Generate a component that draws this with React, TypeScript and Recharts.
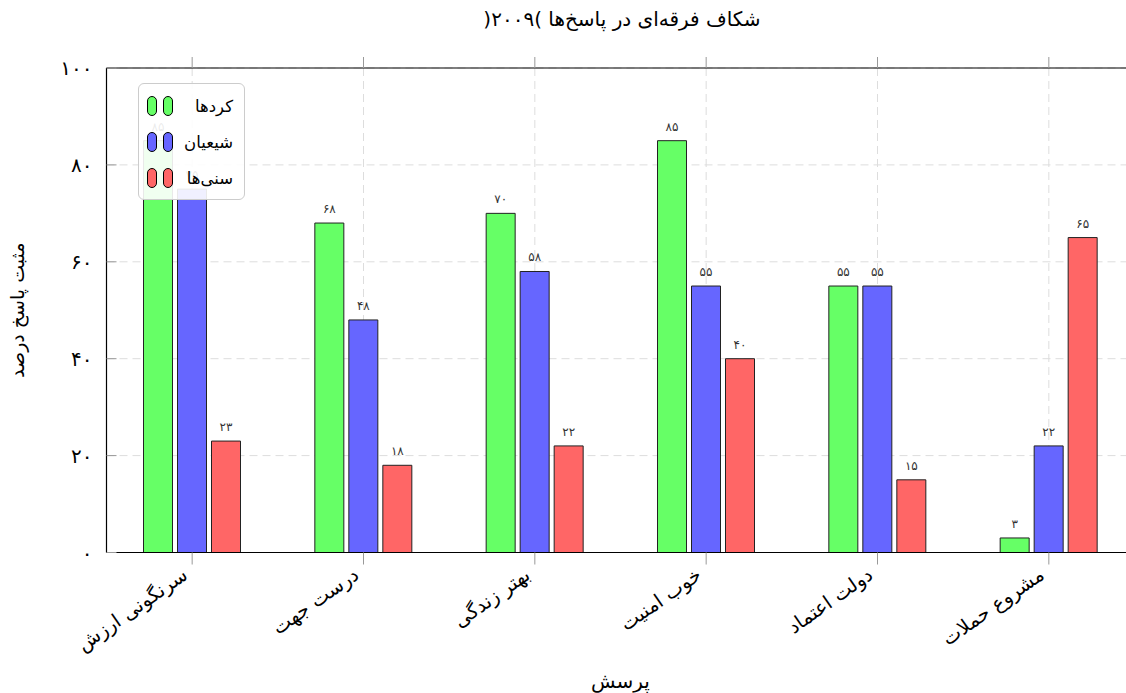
import React from "react"
import { BarChart, Bar, XAxis, YAxis, CartesianGrid, Legend, LabelList, Label } from "recharts"

const categories = ["سرنگونی ارزش", "درست جهت", "بهتر زندگی", "خوب امنیت", "دولت اعتماد", "مشروع حملات"]
const kurds = [85, 68, 70, 85, 55, 3]
const shia = [75, 48, 58, 55, 55, 22]
const sunni = [23, 18, 22, 40, 15, 65]
const yTicks = [0, 20, 40, 60, 80, 100]

const seriesNames = { kurds: "کردها", shia: "شیعیان", sunni: "سنی‌ها" }
const colors = { kurds: "#66ff66", shia: "#6666ff", sunni: "#ff6666" }

const data = categories.map((cat, i) => ({ cat, kurds: kurds[i], shia: shia[i], sunni: sunni[i] }))

const FONT = "'DejaVu Sans', sans-serif"
const fa = (v: any) => String(v).replace(/\d/g, (d) => "۰۱۲۳۴۵۶۷۸۹"[+d])

function LeftTick(p: any) {
  return (
    <g>
      <line x1={p.x + 14} x2={p.x + 24} y1={p.y} y2={p.y} stroke="#999" />
      <text x={p.x} y={p.y} textAnchor="end" dominantBaseline="central" fontSize={20} fontFamily={FONT} fill="#000">
        {fa(p.payload.value)}
      </text>
    </g>
  )
}

function RightTick(p: any) {
  return <line x1={p.x - 10} x2={p.x} y1={p.y} y2={p.y} stroke="#999" />
}

function CatTick(p: any) {
  return (
    <text
      transform={`translate(${p.x - 7},${p.y + 8}) rotate(-35)`}
      textAnchor="end"
      dominantBaseline="central"
      fontSize={19.5}
      fontFamily={FONT}
      fill="#000"
    >
      {p.payload.value}
    </text>
  )
}

function LegendBox() {
  const keys = ["kurds", "shia", "sunni"] as const
  return (
    <div
      style={{
        background: "rgba(255,255,255,0.9)",
        border: "1px solid #ccc",
        borderRadius: 6,
        width: 107,
        height: 117,
        padding: "4px 0",
        boxSizing: "border-box",
        fontFamily: FONT,
      }}
    >
      {keys.map((k) => (
        <div key={k} style={{ display: "flex", alignItems: "center", height: 36, paddingLeft: 8 }}>
          {[0, 1].map((j) => (
            <span
              key={j}
              style={{
                display: "inline-block",
                width: 8,
                height: 18,
                borderRadius: 5,
                background: colors[k],
                border: "1px solid #000",
                marginRight: j === 0 ? 6 : 0,
                flexShrink: 0,
              }}
            />
          ))}
          <span dir="rtl" style={{ flex: 1, textAlign: "right", paddingRight: 11, fontSize: 16.5, whiteSpace: "nowrap" }}>
            {seriesNames[k]}
          </span>
        </div>
      ))}
    </div>
  )
}

export default function App() {
  return (
    <div style={{ position: "absolute", left: 0, top: 0, width: 1126, height: 693, overflow: "hidden", background: "#fff" }}>
      <div
        dir="rtl"
        style={{
          position: "absolute",
          top: 7,
          left: 420,
          width: 404,
          textAlign: "center",
          fontFamily: FONT,
          fontSize: 20,
          zIndex: 2,
        }}
      >
        شکاف فرقه‌ای در پاسخ‌ها )۲۰۰۹(
      </div>
      <BarChart
        width={1150}
        height={693}
        data={data}
        margin={{ top: 67, right: 5.5, left: 46.5, bottom: 5.5 }}
        barSize={29}
        barGap={5}
      >
        <CartesianGrid stroke="#ddd" strokeDasharray="8 5" />
        <XAxis
          dataKey="cat"
          height={135}
          axisLine={{ stroke: "#000", strokeWidth: 1.2 }}
          tickLine={{ stroke: "#999" }}
          tickSize={12}
          tickMargin={0}
          tick={<CatTick />}
          interval={0}
        >
          <Label value="پرسش" position="insideBottom" offset={0} fontSize={20} fontFamily={FONT} fill="#000" />
        </XAxis>
        <XAxis
          xAxisId="t"
          dataKey="cat"
          orientation="top"
          height={1}
          axisLine={{ stroke: "#000", strokeWidth: 1.2 }}
          tickLine={{ stroke: "#999" }}
          tickSize={11}
          tick={() => <g />}
          interval={0}
        />
        <YAxis
          width={60}
          domain={[0, 100]}
          ticks={yTicks}
          axisLine={{ stroke: "#000", strokeWidth: 1.2 }}
          tickLine={false}
          tickSize={0}
          tickMargin={14}
          tick={<LeftTick />}
        >
          <Label
            value="مثبت پاسخ درصد"
            angle={-90}
            position="insideLeft"
            offset={-29}
            fontSize={19}
            fontFamily={FONT}
            fill="#000"
            style={{ textAnchor: "middle" }}
          />
        </YAxis>
        <YAxis
          yAxisId="r"
          orientation="right"
          width={10}
          domain={[0, 100]}
          ticks={yTicks}
          axisLine={{ stroke: "#000", strokeWidth: 1.2 }}
          tickLine={false}
          tickSize={0}
          tickMargin={0}
          tick={<RightTick />}
        />
        <Legend
          layout="vertical"
          align="center"
          verticalAlign="middle"
          wrapperStyle={{ left: 138, top: 83, width: "auto" }}
          content={() => <LegendBox />}
        />
        {(["kurds", "shia", "sunni"] as const).map((k) => (
          <Bar key={k} dataKey={k} name={seriesNames[k]} fill={colors[k]} stroke="#222" strokeWidth={1} isAnimationActive={false}>
            <LabelList dataKey={k} position="top" offset={10} formatter={fa} fontSize={12} fontFamily={FONT} fill="#333" />
          </Bar>
        ))}
      </BarChart>
    </div>
  )
}
